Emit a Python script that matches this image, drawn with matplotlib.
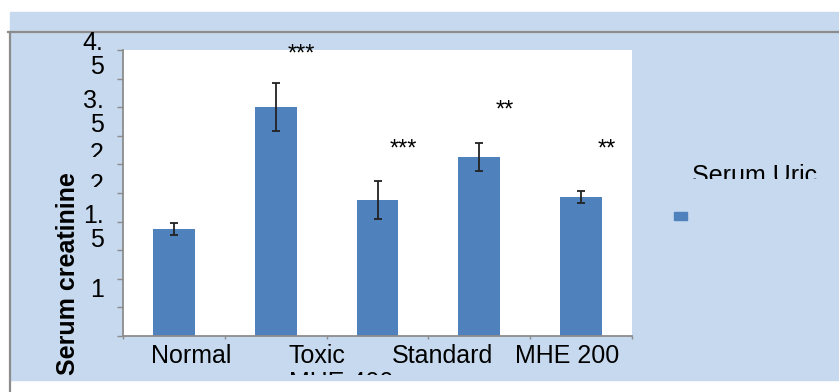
import matplotlib
matplotlib.use('Agg')
import matplotlib.pyplot as plt
import numpy as np
from matplotlib.patches import Rectangle
from matplotlib.lines import Line2D
from matplotlib.transforms import Bbox

plt.rcParams['font.family'] = ['Liberation Sans', 'DejaVu Sans']

# data
groups = ['Normal', 'Toxic', 'Standard', 'MHE 400', 'MHE 200']
values = [1.87, 4.00, 2.38, 3.13, 2.43]
errors = [0.11, 0.42, 0.33, 0.24, 0.11]
stars = ['', '***', '***', '**', '**']
star_y = [0, 4.82, 3.16, 3.83, 3.16]

# the (garbled) axis labels as they show in the original
xtick_labels = ['Normal', 'Toxic\nMHE 400', 'Standard', 'MHE 200']
xtick_pos = [0.17, 1.64, 2.64, 3.86]
ytick_labels = ['4.\n5', '3.\n5', '2', '2', '1.\n5', '1']
ytick_pos = [4.96, 3.95, 3.22, 2.69, 1.94, 0.85]

W, H = 839, 392
blue_bg = '#C6D9EE'
bar_col = '#4F81BD'
grey = '#8c8c8c'

fig = plt.figure(figsize=(W / 100, H / 100), dpi=100)
fig.patch.set_facecolor('white')

# chart frame
fig.patches.append(Rectangle((10 / W, 1 - 380 / H), (W - 10) / W, 368 / H,
                             transform=fig.transFigure, color=blue_bg, zorder=-2))
fig.lines.append(Line2D([8 / W, 1], [1 - 32 / H] * 2, transform=fig.transFigure,
                        color=grey, lw=1.6, zorder=-1))
fig.lines.append(Line2D([10 / W] * 2, [0, 1 - 32 / H], transform=fig.transFigure,
                        color=grey, lw=1.6, zorder=-1))

ax = fig.add_axes([123 / W, 1 - 336 / H, 509 / W, 286 / H])
ax.set_facecolor('white')

x = np.arange(len(groups))
ax.bar(x, values, width=0.41, color=bar_col, yerr=errors, capsize=3,
       error_kw=dict(ecolor='#222222', elinewidth=1.3, capthick=1.3), zorder=2)

for i in range(len(groups)):
    if stars[i]:
        ax.text(i + 0.25, star_y[i], stars[i], ha='center', va='baseline', fontsize=17)

ax.set_xlim(-0.5, 4.5)
ax.set_ylim(0, 5)
for s in ['top', 'right']:
    ax.spines[s].set_visible(False)
for s in ['left', 'bottom']:
    ax.spines[s].set_color(grey)
    ax.spines[s].set_linewidth(1.3)

ax.xaxis.remove_overlapping_locs = False
ax.yaxis.remove_overlapping_locs = False
ax.set_yticks(np.arange(0, 5.01, 0.5), minor=True)
ax.set_xticks(np.arange(-0.5, 4.6, 1), minor=True)
ax.tick_params(axis='y', which='minor', length=4.5, width=1, color=grey, direction='out')
ax.tick_params(axis='x', which='minor', length=2.5, width=1, color=grey, direction='out')

ax.set_yticks(ytick_pos, ytick_labels)
ax.set_xticks(xtick_pos, xtick_labels)
ax.tick_params(axis='y', which='major', length=0, pad=14, labelsize=18)
ax.tick_params(axis='x', which='major', length=0, pad=5.5, labelsize=18)

for lbl in ax.get_yticklabels():
    lbl.set_linespacing(1.0)
ylbls = ax.get_yticklabels()
ylbls[2].set_clip_on(True)
ylbls[2].set_clip_box(Bbox.from_extents(0, H - 157, W, H))
ylbls[3].set_clip_on(True)
ylbls[3].set_clip_box(Bbox.from_extents(0, H - 187, W, H))

xl = ax.get_xticklabels()[1]
xl.set_multialignment('left')
xl.set_clip_on(True)
xl.set_clip_box(Bbox.from_extents(0, H - 375, W, H))

ax.set_ylabel('Serum creatinine', fontsize=18, fontweight='bold')
ax.yaxis.set_label_coords(-0.0845, 0.217)

# legend entry (cut off in the original)
fig.patches.append(Rectangle((674 / W, 1 - 220 / H), 13 / W, 8 / H,
                             transform=fig.transFigure, color=bar_col, zorder=3))
leg = fig.text(692 / W, 1 - 183 / H, 'Serum Uric', fontsize=18, ha='left', va='baseline')
leg.set_clip_on(True)
leg.set_clip_box(Bbox.from_extents(0, H - 179, W, H))

fig.savefig('out.png', dpi=100)
